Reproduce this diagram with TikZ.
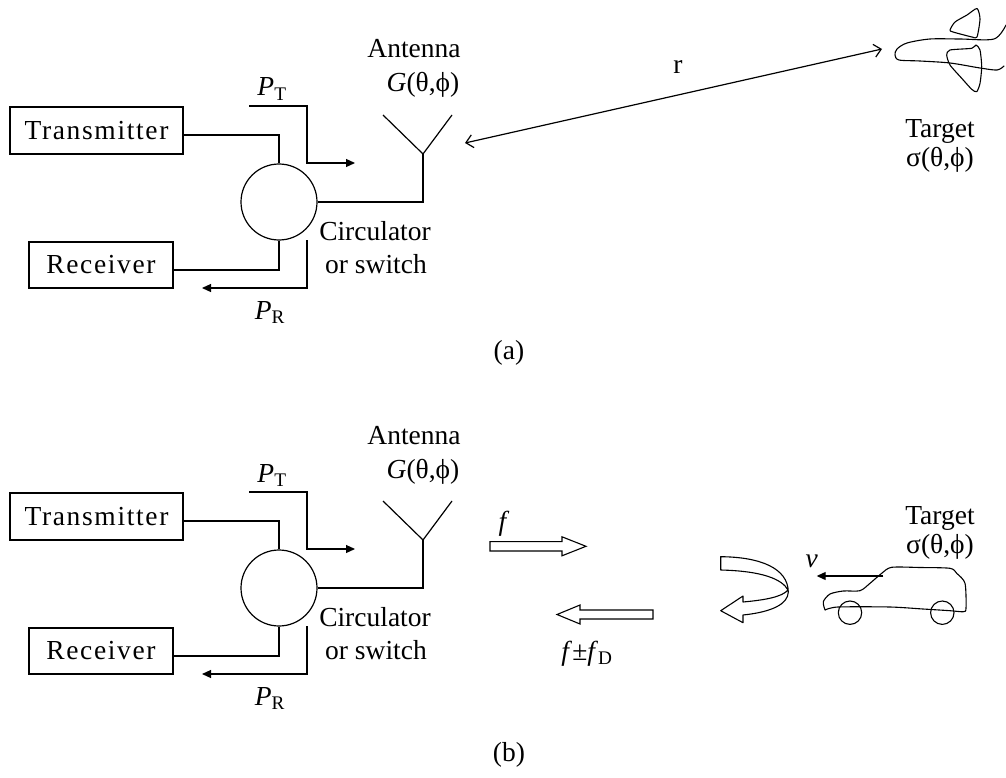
\documentclass[tikz,border=0pt]{standalone}
\usepackage{fontspec}
\setmainfont{Liberation Serif}
\usetikzlibrary{arrows.meta,calc}

% Transmitter/receiver front end with circulator and antenna,
% drawn once for each panel (#1 = name prefix, #2 = vertical shift)
\newcommand\radarfront[2]{%
  \begin{scope}[yshift=#2]
    \node[blockbox, minimum width=173pt, minimum height=47pt] (#1tx) at (96.5,130.5) {Transmitter};
    \node[blockbox, minimum width=144pt, minimum height=46pt] (#1rx) at (101,265) {Receiver};
    \node[port] (#1circ) at (279,202) {};
    \coordinate (#1feed) at (423,154);
    \coordinate (#1armL) at (383,115);
    \coordinate (#1armR) at (452,115);
    \draw ($(#1tx.east)+(0,4.5)$) -| (#1circ.north);
    \draw ($(#1rx.east)+(0,5)$) -| (#1circ.south);
    \draw (#1circ.east) -| (#1feed);
    \draw (#1armL) -- (#1feed) -- (#1armR);
    % power flow arrows
    \coordinate (#1ptA) at (249,106);
    \coordinate (#1ptC) at (307,163);
    \coordinate (#1ptB) at (355,163);
    \draw[flow] (#1ptA) -| (#1ptC) -- (#1ptB);
    \coordinate (#1prA) at (307,240);
    \coordinate (#1prB) at (202,288);
    \draw[flow] (#1prA) |- (#1prB);
    % labels
    \node[txt] (#1ptlab) at (272,96) {\textit{P}\textsubscript{T}};
    \node[txt] (#1antlab) at (414,58) {Antenna};
    \node[txt] (#1gainlab) at (423,92) {\textit{G}(θ,ϕ)};
    \node[txt] (#1circlab) at (375,240) {Circulator};
    \node[txt] (#1swlab) at (376,273) {or switch};
    \node[txt] (#1prlab) at (270,319) {\textit{P}\textsubscript{R}};
  \end{scope}}

\begin{document}
\begin{tikzpicture}[x=1pt, y=-1pt, line width=1.2pt,
  font=\fontsize{27.5}{33}\selectfont,
  blockbox/.style={draw, inner sep=0pt,
    font=\fontsize{27.5}{33}\selectfont\addfontfeature{LetterSpace=6}},
  port/.style={draw, circle, inner sep=0pt, minimum size=76pt},
  flow/.style={-{Triangle[length=9pt,width=8pt]}},
  rangeline/.style={{Straight Barb[length=7pt,width=13pt]}-{Straight Barb[length=7pt,width=13pt]}},
  txt/.style={inner sep=0pt, anchor=base},
  hollow/.style={draw, fill=white, line width=1.1pt, line join=miter},
  sketch/.style={line width=1.1pt, line join=round, line cap=round},
]
\useasboundingbox (0,0) rectangle (1006,778);

% ---------- panel (a): monostatic radar geometry ----------
\radarfront{a}{0pt}

\coordinate (aantTip) at (465,143);
\coordinate (anose) at (882,49);
\draw[rangeline] (aantTip) -- (anose);
\node[txt] (rlab) at (678,74) {r};

% aircraft sketch
\draw[sketch] plot[smooth, tension=0.5] coordinates {
  (1006,25) (994,39) (960,39) (930,39) (907,43) (897,49) (895,55) (899,60)
  (920,61) (950,63) (980,68) (997,70) (1004,66)};
\draw[sketch] plot[smooth cycle, tension=0.4] coordinates {
  (950,30) (955,22) (967,15) (977,8.5) (980,19) (977,37) (972,37) (953,32)};
\draw[sketch] plot[smooth cycle, tension=0.4] coordinates {
  (946.7,55) (950,50) (971.7,48.3) (976,45) (980,50) (981.7,66.7) (980,83.3)
  (976.7,91.7) (971.7,89.3) (961.7,78.3) (950,65)};

\node[txt] (atgt) at (940,138) {Target};
\node[txt] (atgtrcs) at (940,167) {σ(θ,ϕ)};
\node[txt] (capa) at (509,359) {(a)};

% ---------- panel (b): Doppler shift from a moving target ----------
\radarfront{b}{-386pt}

\draw[hollow] (490,541.6) -- (562,541.6) -- (562,536.8) -- (586,546.3)
  -- (562,555.8) -- (562,551) -- (490,551) -- cycle;
\node[txt] (flab) at (504,530) {\textit{f}};

\draw[hollow] (653,610) -- (580,610) -- (580,605) -- (557,614.5)
  -- (580,624) -- (580,619) -- (653,619) -- cycle;
\node[txt] (fdlab) at (587,660) {\textit{f}±\textit{f}\textsubscript{D}};

% reflected wave turning back
\draw[hollow, line join=round] (720.7,556.7)
  .. controls (760,557) and (788,568) .. (788.3,592)
  .. controls (788,604) and (772,612) .. (743,615)
  -- (743,622.7) -- (720.7,610.7) -- (743,596) -- (743,602)
  .. controls (765,600) and (782,597) .. (788,590)
  .. controls (782,579) and (762,571) .. (720.7,570) -- cycle;

% car sketch
\draw[sketch] plot[smooth, tension=0.45] coordinates {
  (825,610) (823.3,601.7) (830,594) (843.3,591) (860,590.7) (870,583.3)
  (881.7,573.3) (891.7,567.3) (920,567.5) (950,568.3) (956.7,573.3)
  (965,583.3) (966,608.3) (963.3,611.7) (950,610.7) (923,609) (890,607)
  (838,607) (825,610)};
\draw[sketch] (850,612.7) circle[radius=11.7];
\draw[sketch] (942.3,612.7) circle[radius=11.7];

\coordinate (vA) at (883.3,576);
\coordinate (vB) at (816.7,576);
\draw[flow] (vA) -- (vB);
\node[txt] (vlab) at (811.7,567) {\textit{v}};

\node[txt] (btgt) at (940,524) {Target};
\node[txt] (btgtrcs) at (940,553) {σ(θ,ϕ)};
\node[txt] (capb) at (509,761) {(b)};
\end{tikzpicture}
\end{document}
